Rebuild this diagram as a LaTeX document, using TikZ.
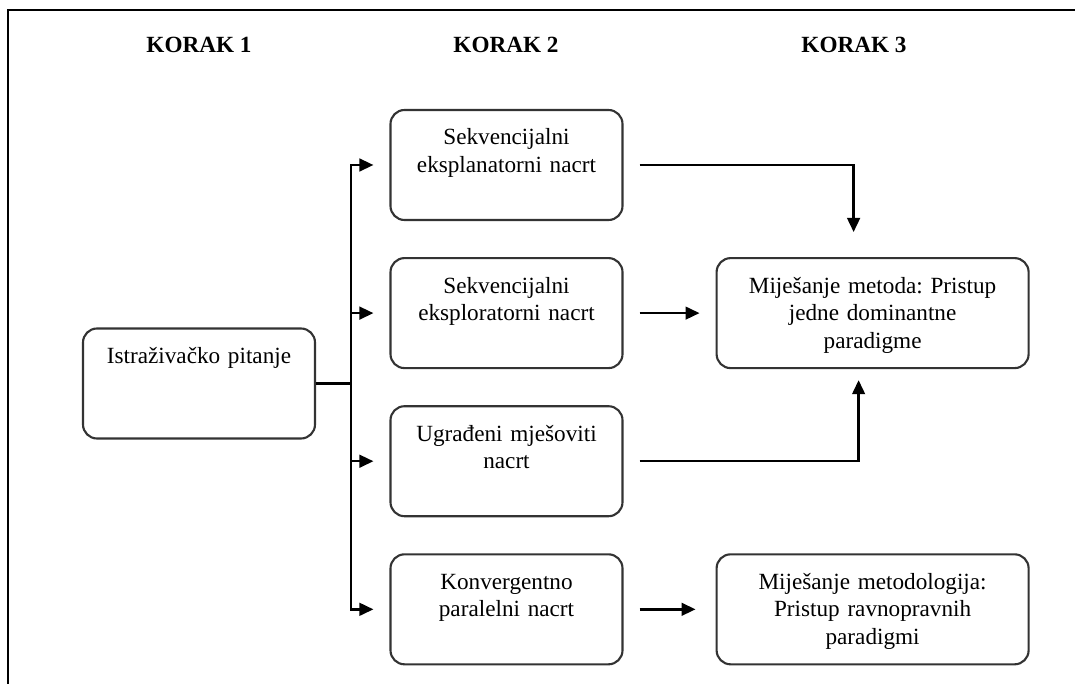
\documentclass[tikz,border=0pt]{standalone}
\usepackage{fontspec}
\setmainfont{Liberation Serif}
\usetikzlibrary{arrows.meta,positioning}
\frenchspacing

\begin{document}
\begin{tikzpicture}[every node/.style={font=\fontsize{16.5}{19.6}\selectfont},
  block/.style={draw=black!80,line width=1.5pt,rounded corners=0.35cm,fill=white,
    minimum width=5.8cm,minimum height=2.75cm,text width=5.4cm,align=center,
    inner ysep=0pt,text height=0.875cm,text depth=1.875cm},
  wide/.style={block,minimum width=7.8cm,text width=7.4cm},
  korak/.style={font=\fontsize{16.5}{19.6}\selectfont\bfseries,anchor=base},
  link/.style={line width=1.8pt},
  arrow/.style={link,-{Triangle[length=10pt,width=9pt]}}]

        \useasboundingbox (0,0) rectangle (26.875,-17.1);
        \draw[line width=1.2pt] (26.875,-0.25) -| (0.2,-17.1);

        \node[korak] (k1) at (4.975,-1.325) {KORAK 1};
        \node[korak] (k2) at (12.65,-1.325) {KORAK 2};
        \node[korak] (k3) at (21.35,-1.325) {KORAK 3};

        \node[block] (pitanje) at (4.975,-9.5875) {Istraživačko pitanje};

        \node[block] (b1) at (12.6625,-4.125) {Sekvencijalni\\eksplanatorni nacrt};
        \node[block] (b2) [below = 0.9cm of b1] {Sekvencijalni\\eksploratorni nacrt};
        \node[block] (b3) [below = 0.9cm of b2] {Ugrađeni mješoviti\\nacrt};
        \node[block] (b4) [below = 0.9cm of b3] {Konvergentno\\paralelni nacrt};

        \node[wide] (c1) [right = 2.3cm of b2] {Miješanje metoda: Pristup\\jedne dominantne\\paradigme};
        \node[wide] (c2) [right = 2.3cm of b4] {Miješanje metodologija:\\Pristup ravnopravnih\\paradigmi};

        \coordinate[right = 0.875cm of pitanje.east] (razvod);
        \draw[link] (pitanje.east) -- (razvod);
        \draw[arrow] (razvod) |- ([xshift=-0.4cm]b1.west);
        \draw[arrow] (razvod) |- ([xshift=-0.4cm]b2.west);
        \draw[arrow] (razvod) |- ([xshift=-0.4cm]b3.west);
        \draw[arrow] (razvod) |- ([xshift=-0.4cm]b4.west);

        \draw[arrow] ([xshift=0.4cm]b1.east) -| ([xshift=-0.475cm,yshift=0.625cm]c1.north);
        \draw[arrow] ([xshift=0.4cm]b2.east) -- ([xshift=-0.4cm]c1.west);
        \draw[arrow] ([xshift=0.4cm]b3.east) -| ([xshift=-0.35cm,yshift=-0.275cm]c1.south);
        \draw[arrow] ([xshift=0.4cm]b4.east) -- ([xshift=-0.5cm]c2.west);
      \end{tikzpicture}
\end{document}
